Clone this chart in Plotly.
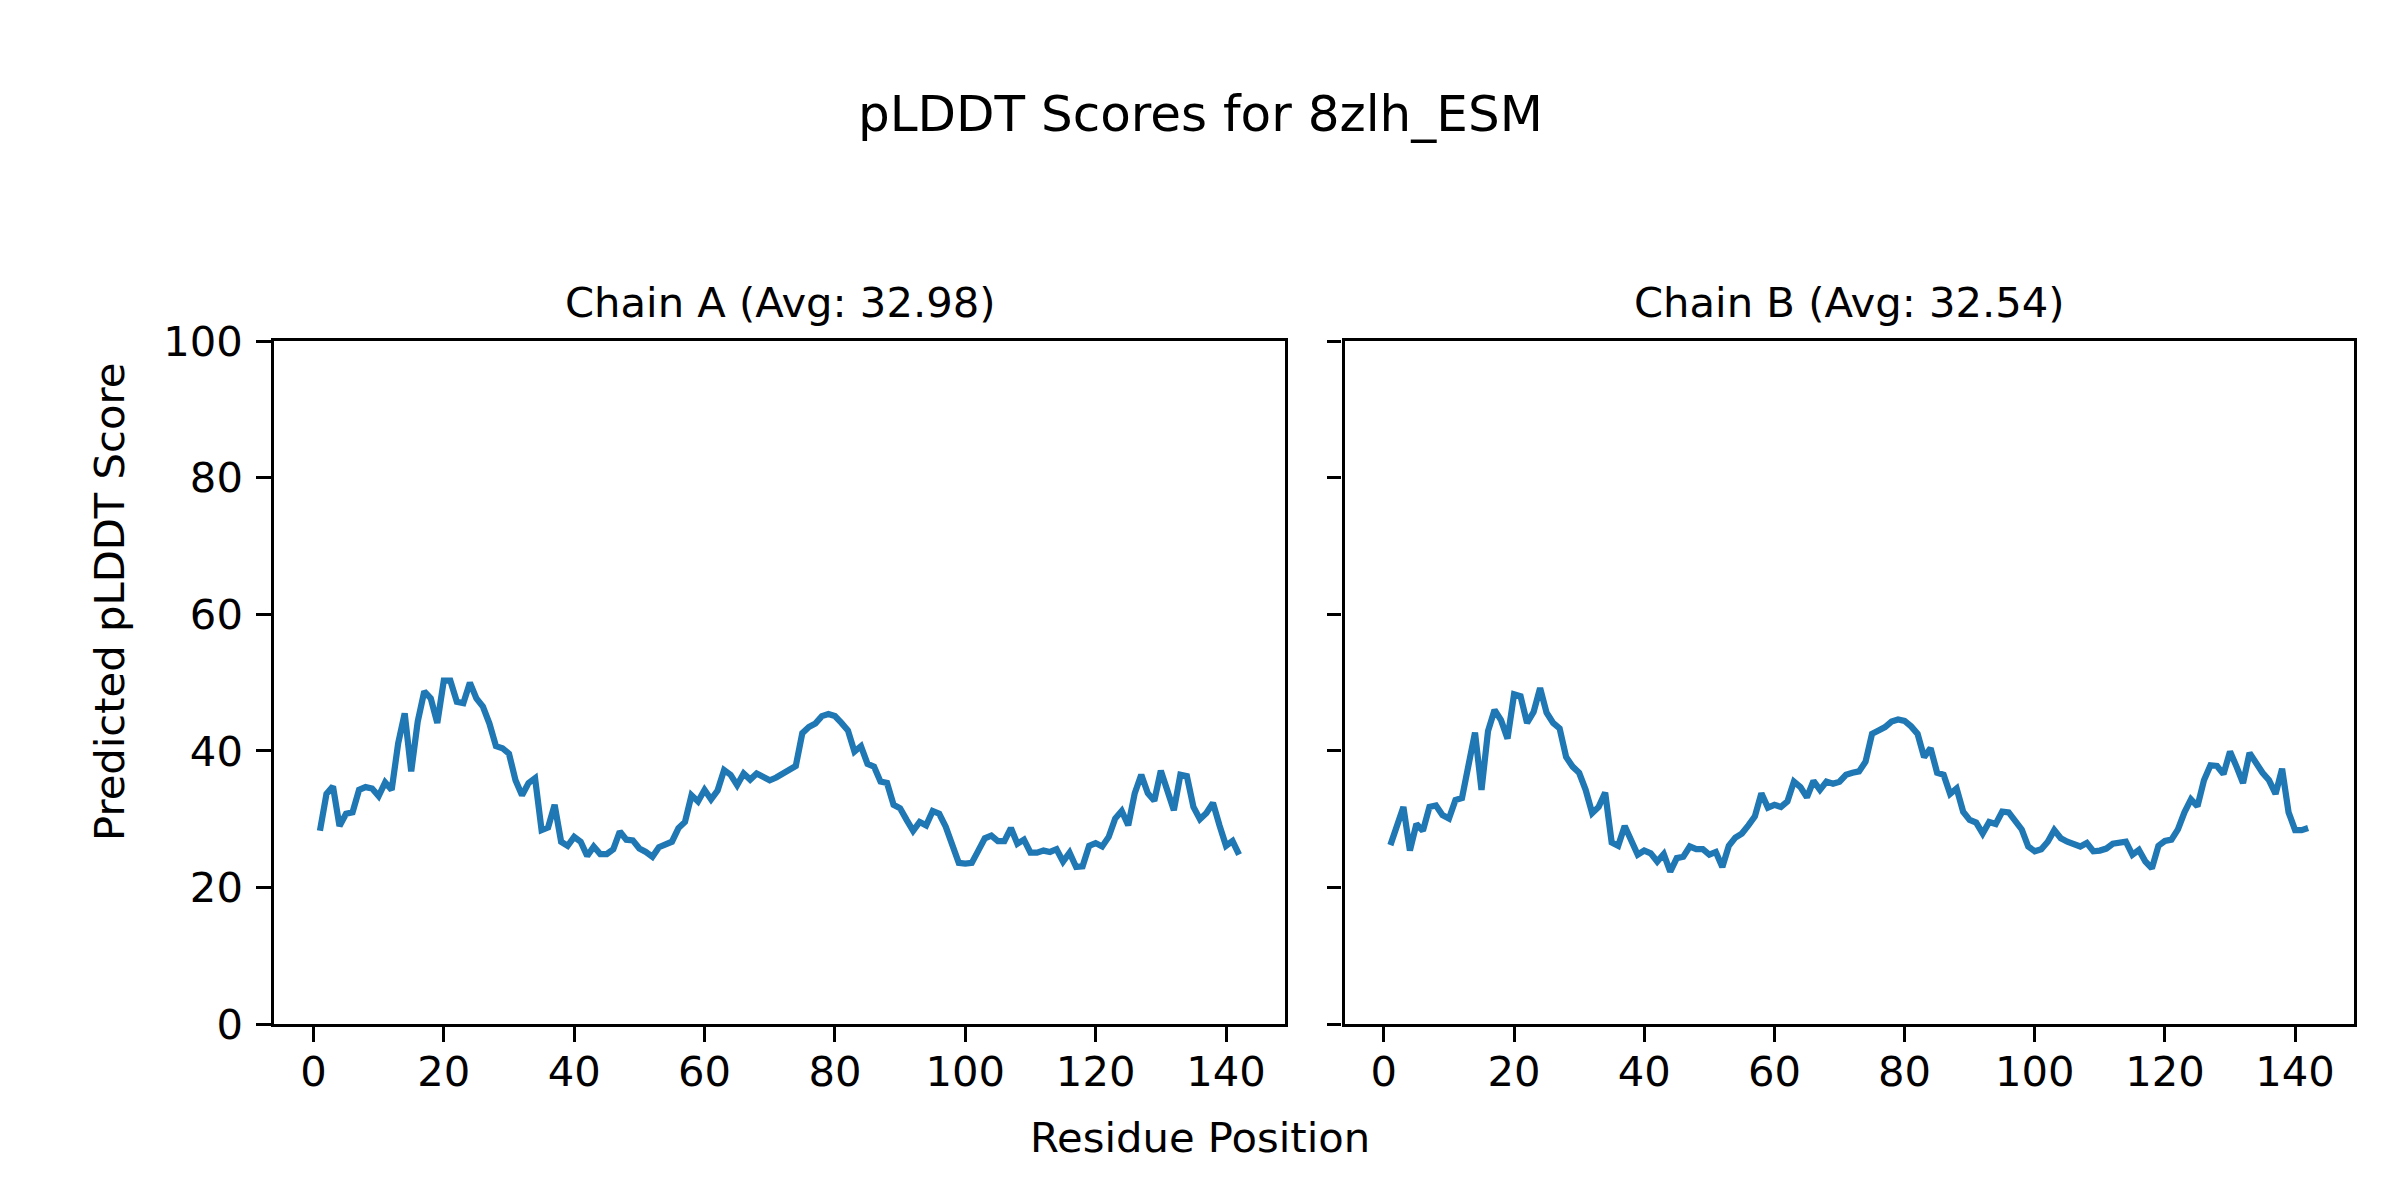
import plotly.graph_objects as go
from plotly.subplots import make_subplots

# ---------------- data ----------------
residues = list(range(1, 143))

chain_a = [
    28.3, 33.7, 34.8, 29.0, 30.8, 31.0, 34.3, 34.7, 34.5, 33.4,
    35.4, 34.3, 41.1, 45.5, 37.0, 44.3, 48.7, 47.7, 44.1, 50.3,
    50.3, 47.2, 47.0, 50.0, 47.7, 46.5, 44.0, 40.7, 40.4, 39.6,
    35.7, 33.5, 35.3, 36.0, 28.4, 28.8, 32.1, 26.7, 26.1, 27.4,
    26.7, 24.6, 26.0, 24.9, 24.9, 25.6, 28.2, 27.0, 26.9, 25.7,
    25.2, 24.5, 25.9, 26.2, 26.7, 28.7, 29.6, 33.5, 32.6, 34.3,
    32.9, 34.2, 37.2, 36.5, 35.0, 36.7, 35.8, 36.7, 36.3, 35.7,
    36.1, 36.7, 37.1, 37.8, 42.6, 43.5, 44.0, 45.1, 45.4, 45.1,
    44.1, 43.0, 39.9, 40.7, 38.1, 37.7, 35.5, 35.3, 32.1, 31.6,
    29.9, 28.3, 29.6, 29.1, 31.2, 30.8, 28.9, 26.0, 23.6, 23.5,
    23.6, 25.4, 27.2, 27.6, 26.8, 26.8, 28.7, 26.4, 27.0, 25.1,
    25.1, 25.4, 25.2, 25.6, 23.8, 25.1, 23.0, 23.1, 26.1, 26.5,
    26.0, 27.4, 30.1, 31.2, 29.1, 33.8, 36.5, 33.8, 32.7, 37.1,
    34.0, 31.3, 36.5, 36.3, 31.8, 30.0, 30.9, 32.4, 29.1, 26.1,
    26.8, 24.8,
]

chain_b = [
    26.2, 28.9, 31.8, 25.4, 29.3, 28.3, 31.8, 32.0, 30.6, 30.1,
    32.8, 33.1, 37.7, 42.7, 34.3, 42.9, 46.0, 44.5, 41.8, 48.3,
    48.0, 44.1, 45.7, 49.2, 45.6, 44.1, 43.3, 39.1, 37.7, 36.8,
    34.3, 30.9, 31.8, 33.9, 26.6, 26.1, 29.0, 26.6, 24.8, 25.4,
    25.0, 23.8, 24.9, 22.3, 24.3, 24.5, 26.0, 25.6, 25.6, 24.8,
    25.2, 23.0, 26.1, 27.3, 27.9, 29.1, 30.4, 33.8, 31.7, 32.1,
    31.8, 32.6, 35.5, 34.7, 33.2, 35.6, 34.3, 35.5, 35.2, 35.5,
    36.5, 36.8, 37.0, 38.4, 42.5, 43.0, 43.5, 44.3, 44.6, 44.4,
    43.6, 42.5, 39.1, 40.4, 36.8, 36.5, 33.7, 34.5, 31.1, 29.9,
    29.5, 27.9, 29.6, 29.3, 31.1, 31.0, 29.8, 28.5, 26.0, 25.3,
    25.6, 26.7, 28.4, 27.2, 26.7, 26.4, 26.0, 26.5, 25.3, 25.4,
    25.7, 26.4, 26.6, 26.7, 24.8, 25.5, 23.8, 22.8, 26.1, 26.8,
    27.0, 28.5, 31.0, 32.9, 31.9, 35.7, 37.9, 37.8, 36.6, 39.9,
    37.7, 35.3, 39.7, 38.1, 36.8, 35.7, 33.7, 37.4, 31.0, 28.4,
    28.4, 28.7,
]

subplot_titles = ["Chain A (Avg: 32.98)", "Chain B (Avg: 32.54)"]
main_title = "pLDDT Scores for 8zlh_ESM"
x_label = "Residue Position"
y_label = "Predicted pLDDT Score"
x_ticks = [0, 20, 40, 60, 80, 100, 120, 140]
y_ticks = [0, 20, 40, 60, 80, 100]

# ---------------- figure ----------------
W, H = 2400, 1200
FONT = "DejaVu Sans"
LINE_COLOR = "#1f77b4"

fig = make_subplots(rows=1, cols=2, shared_yaxes=True)

for i, vals in enumerate([chain_a, chain_b], start=1):
    fig.add_trace(
        go.Scatter(x=residues, y=vals, mode="lines",
                   line=dict(color=LINE_COLOR, width=6.25),
                   showlegend=False, hoverinfo="skip"),
        row=1, col=i,
    )

y_dom = [1 - 1024 / H, 1 - 341.3 / H]
x_doms = [[274 / W, 1285 / W], [1344.5 / W, 2354 / W]]

x_pad = 0.05 * (residues[-1] - residues[0])
x_range = [residues[0] - x_pad, residues[-1] + x_pad]

axis_common = dict(
    showline=True, linecolor="black", linewidth=3.3, mirror=True,
    ticks="outside", ticklen=14.6, tickwidth=3.3, tickcolor="black",
    showgrid=False, zeroline=False,
    tickfont=dict(family=FONT, size=41.7, color="black"),
    automargin=False,
)

fig.update_layout(
    xaxis=dict(domain=x_doms[0], range=x_range, tickvals=x_ticks,
               ticklabelstandoff=-6, **axis_common),
    xaxis2=dict(domain=x_doms[1], range=x_range, tickvals=x_ticks,
                ticklabelstandoff=-6, **axis_common),
    yaxis=dict(domain=y_dom, range=[0, 100], tickvals=y_ticks,
               ticklabelstandoff=5, **axis_common),
    yaxis2=dict(domain=y_dom, range=[0, 100], tickvals=y_ticks,
                showticklabels=False, matches="y", **axis_common),
)

annotations = [
    dict(text=main_title, x=0.5, y=1 - 114 / H, xref="paper", yref="paper",
         xanchor="center", yanchor="middle", showarrow=False,
         font=dict(family=FONT, size=50, color="black")),
    dict(text=x_label, x=0.5, y=1 - 1137 / H, xref="paper", yref="paper",
         xanchor="center", yanchor="middle", showarrow=False,
         font=dict(family=FONT, size=41.7, color="black")),
    dict(text=y_label, x=109 / W, y=1 - 602 / H, xref="paper", yref="paper",
         xanchor="center", yanchor="middle", textangle=-90, showarrow=False,
         font=dict(family=FONT, size=41.7, color="black")),
]
for t, dom in zip(subplot_titles, x_doms):
    annotations.append(
        dict(text=t, x=(dom[0] + dom[1]) / 2, y=1 - 303 / H,
             xref="paper", yref="paper", xanchor="center", yanchor="middle",
             showarrow=False, font=dict(family=FONT, size=41.7, color="black"))
    )

fig.update_layout(
    width=W, height=H,
    margin=dict(l=0, r=0, t=0, b=0),
    paper_bgcolor="white", plot_bgcolor="white",
    font=dict(family=FONT, color="black"),
    annotations=annotations,
)

fig.write_html(
    "out.html",
    config={"displayModeBar": False},
    post_script="document.body.style.margin='0';document.body.style.overflow='hidden';",
)
